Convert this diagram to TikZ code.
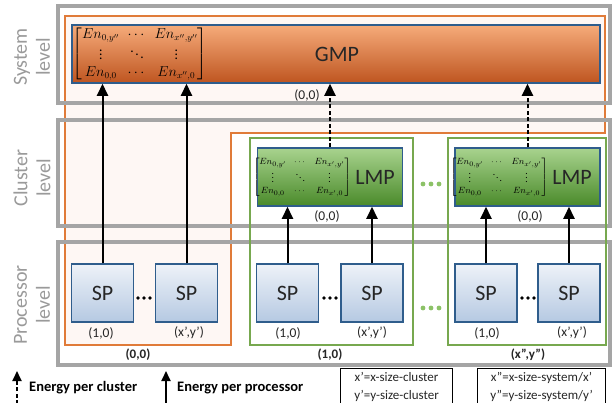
\documentclass[tikz,border=0pt]{standalone}
\usepackage{amsmath}
\usepackage{fontspec}
\setmainfont{Carlito}
\usetikzlibrary{arrows.meta}
\definecolor{levgray}{HTML}{9A9A9A}
\definecolor{boxgray}{HTML}{A5A5A5}
\definecolor{orgline}{HTML}{E07B39}
\definecolor{orgfill}{HTML}{FEF7F4}
\definecolor{grnline}{HTML}{77A84F}
\definecolor{grndot}{HTML}{8CC267}
\definecolor{blueline}{HTML}{2F5D8C}
\definecolor{gmptop}{HTML}{F6AB7A}
\definecolor{gmpbot}{HTML}{BE5520}
\definecolor{lmptop}{HTML}{A8D38E}
\definecolor{lmpbot}{HTML}{4A8A2A}
\definecolor{sptop}{HTML}{EEF2F8}
\definecolor{spbot}{HTML}{B5C9E2}
\definecolor{txt}{HTML}{262626}
\begin{document}
\begin{tikzpicture}[x=1pt,y=-1pt,
  levelbox/.style={draw=boxgray,line width=4pt},
  levellabel/.style={rotate=90,align=center,text=levgray,font=\fontsize{20}{23}\selectfont},
  orgbox/.style={draw=orgline,line width=1.5pt},
  grnbox/.style={draw=grnline,line width=1.5pt},
  gmpbox/.style={draw=blueline,line width=1.5pt,top color=gmptop,bottom color=gmpbot,minimum width=528pt,minimum height=58pt,inner sep=0pt},
  lmpbox/.style={draw=blueline,line width=1.5pt,top color=lmptop,bottom color=lmpbot,minimum width=145pt,minimum height=58pt,inner sep=0pt},
  spbox/.style={draw=blueline,line width=1.5pt,top color=sptop,bottom color=spbot,minimum width=62pt,minimum height=58pt,inner sep=0pt,font=\fontsize{22}{26}\selectfont,text=txt},
  bigtxt/.style={font=\fontsize{22}{26}\selectfont,text=txt},
  coordlbl/.style={font=\fontsize{13.5}{16}\selectfont,text=txt,inner sep=0pt},
  boldlbl/.style={font=\bfseries\fontsize{13}{16}\selectfont,text=txt,inner sep=0pt},
  legtxt/.style={font=\bfseries\fontsize{14.5}{17}\selectfont,text=black,anchor=west,inner sep=0pt},
  legbox/.style={draw=black,line width=1.2pt,align=center,font=\fontsize{13}{18}\selectfont,text=txt,anchor=north west,inner sep=0pt},
  matnode/.style={inner sep=0pt},
  solidarrow/.style={line width=2pt,-{Triangle[length=12pt,width=11pt]}},
  dasharrow/.style={line width=2pt,dash pattern=on 4pt off 2.5pt,-{Triangle[length=12pt,width=11pt]}},
  legsolid/.style={line width=1.8pt,-{Triangle[length=10pt,width=9pt]}},
  legdash/.style={line width=1.8pt,dash pattern=on 4pt off 2.5pt,-{Triangle[length=10pt,width=9pt]}},
  blackdot/.style={fill=black},
  greendot/.style={fill=grndot}
]
\useasboundingbox (0,0) rectangle (613,402);
\fill[white] (0,0) rectangle (613,402);

% orange L-shaped region (cluster (0,0) and system)
\path[orgbox,fill=orgfill] (65,16) -- (605,16) -- (605,133) -- (231,133) -- (231,345) -- (65,345) -- cycle;

% level boxes
\draw[levelbox] (58,6) rectangle (610,103);
\draw[levelbox] (58,120) rectangle (610,226);
\draw[levelbox] (58,242) rectangle (610,365);

% level labels
\node[levellabel] (lsys) at (32,57) {System\\level};
\node[levellabel] (lclu) at (32,178) {Cluster\\level};
\node[levellabel] (lpro) at (32,305) {Processor\\level};

% green cluster boxes
\draw[grnbox] (250,138) rectangle (413,345);
\draw[grnbox] (448,138) rectangle (606,345);

% GMP
\node[gmpbox] (gmp) at (336,54) {};
\node[matnode] (gmpmat) at (140,54) {\fontsize{13.5}{15}\selectfont\setlength{\arraycolsep}{4pt}\renewcommand{\arraystretch}{1.12}$\begin{bmatrix} En_{0,y''} & \cdots & En_{x'',y''}\\ \vdots & \ddots & \vdots \\ En_{0,0} & \cdots & En_{x'',0}\end{bmatrix}$};
\node[bigtxt] (gmptxt) at (337,54) {GMP};
\node[coordlbl] (gmplbl) at (307,95) {(0,0)};

% LMPs
\node[lmpbox] (lmp1) at (330,177) {};
\node[matnode] (lmpmat1) at (302,177) {\fontsize{9.5}{11}\selectfont\setlength{\arraycolsep}{4pt}$\begin{bmatrix} En_{0,y'} & \cdots & En_{x',y'}\\ \vdots & \ddots & \vdots \\ En_{0,0} & \cdots & En_{x',0}\end{bmatrix}$};
\node[bigtxt] (lmptxt1) at (375,177) {LMP};
\node[coordlbl] (lmplbl1) at (327,216) {(0,0)};

\node[lmpbox] (lmp2) at (527.5,177) {};
\node[matnode] (lmpmat2) at (499,177) {\fontsize{9.5}{11}\selectfont\setlength{\arraycolsep}{4pt}$\begin{bmatrix} En_{0,y'} & \cdots & En_{x',y'}\\ \vdots & \ddots & \vdots \\ En_{0,0} & \cdots & En_{x',0}\end{bmatrix}$};
\node[bigtxt] (lmptxt2) at (572,177) {LMP};
\node[coordlbl] (lmplbl2) at (530,216) {(0,0)};

% SPs
\node[spbox] (sp1) at (102.5,293) {SP};
\node[spbox] (sp2) at (186.5,293) {SP};
\node[spbox] (sp3) at (287.5,293) {SP};
\node[spbox] (sp4) at (372,293) {SP};
\node[spbox] (sp5) at (486,293) {SP};
\node[spbox] (sp6) at (569,293) {SP};

\node[coordlbl] (l1) at (101,333) {(1,0)};
\node[coordlbl] (l2) at (189,333) {(x',y')};
\node[coordlbl] (l3) at (288,333) {(1,0)};
\node[coordlbl] (l4) at (372,333) {(x',y')};
\node[coordlbl] (l5) at (487,333) {(1,0)};
\node[coordlbl] (l6) at (572,333) {(x',y')};

\node[boldlbl] (c1) at (138,355) {(0,0)};
\node[boldlbl] (c2) at (330,355) {(1,0)};
\node[boldlbl] (c3) at (528,355) {(x'',y'')};

% dots
\foreach \cx in {144,330,528}{
  \foreach \d in {-6,0,6}{\fill[blackdot] (\cx+\d,298) circle (1.9pt);}
}
\foreach \cy in {184,308}{
  \foreach \d in {-8,0,8}{\fill[greendot] (431+\d,\cy) circle (2.4pt);}
}

% arrows
\draw[solidarrow] (sp1.north) -- (sp1.north |- gmp.south);
\draw[solidarrow] (sp2.north) -- (sp2.north |- gmp.south);
\draw[solidarrow] (sp3.north) -- (sp3.north |- lmp1.south);
\draw[solidarrow] (sp4.north) -- (sp4.north |- lmp1.south);
\draw[solidarrow] (sp5.north) -- (sp5.north |- lmp2.south);
\draw[solidarrow] (sp6.north) -- (sp6.north |- lmp2.south);
\draw[dasharrow] (lmp1.north) -- (lmp1.north |- gmp.south);
\draw[dasharrow] (lmp2.north) -- (lmp2.north |- gmp.south);

% legend
\coordinate (ld0) at (17,404);
\coordinate (ld1) at (17,371);
\coordinate (ls0) at (166,404);
\coordinate (ls1) at (166,371);
\draw[legdash] (ld0) -- (ld1);
\draw[legsolid] (ls0) -- (ls1);
\node[legtxt] (leg1) at (29,388) {Energy per cluster};
\node[legtxt] (leg2) at (177,388) {Energy per processor};
\node[legbox,minimum width=112pt,minimum height=37pt] (box1) at (340,368) {x'=x-size-cluster\\y'=y-size-cluster};
\node[legbox,minimum width=128pt,minimum height=37pt] (box2) at (477,368) {x"=x-size-system/x'\\y"=y-size-system/y'};
\end{tikzpicture}
\end{document}
